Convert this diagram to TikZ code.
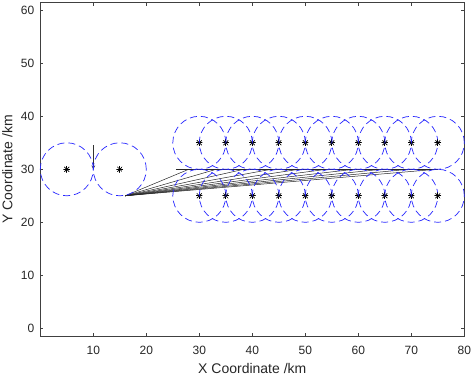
\documentclass[tikz,border=0pt]{standalone}
\usepackage{fontspec}
\setmainfont{Liberation Sans}
\usepackage{tikz}
\usetikzlibrary{arrows}
\tikzstyle{frame} = [draw=black!75, line width=0.6pt]
\tikzstyle{ticklabel} = [font=\fontsize{12}{14}\selectfont, text=black!85, inner sep=0pt]
\tikzstyle{axislabel} = [font=\fontsize{14}{16}\selectfont, text=black!85, inner sep=0pt]
\tikzstyle{cover} = [draw=blue!85, dash pattern=on 7pt off 4pt, line width=0.7pt]
\tikzstyle{site} = [circle, inner sep=0pt, minimum size=7pt, path picture={
    \draw[line width=0.7pt] (path picture bounding box.north) -- (path picture bounding box.south);
    \draw[line width=0.7pt] (path picture bounding box.east) -- (path picture bounding box.west);
    \draw[line width=0.7pt] (path picture bounding box.north east) -- (path picture bounding box.south west);
    \draw[line width=0.7pt] (path picture bounding box.north west) -- (path picture bounding box.south east);}]
\tikzstyle{route} = [draw=black!85, line width=0.5pt]
\tikzstyle{arrow} = [draw=black!80, line width=0.7pt, ->, >=stealth]

\begin{document}
\begin{tikzpicture}[x=5.3pt, y=5.3pt]
    \useasboundingbox (-7.6,-9) rectangle (81.45,61.94);
    \draw[frame] (0,-1.5) rectangle (80,61.5);
    \foreach \x in {10,20,...,80} {
        \draw[frame] (\x,-1.5) -- ++(0,0.6);
        \draw[frame] (\x,61.5) -- ++(0,-0.6);
        \node[ticklabel] (xt\x) at (\x,-4.2) {\x};
    }
    \foreach \y in {0,10,...,60} {
        \draw[frame] (0,\y) -- ++(0.6,0);
        \draw[frame] (80,\y) -- ++(-0.6,0);
        \node[ticklabel, anchor=east] (yt\y) at (-1.1,\y) {\y};
    }
    \node[axislabel] (xlabel) at (40,-7.6) {X Coordinate /km};
    \node[axislabel, rotate=90] (ylabel) at (-6.2,30) {Y Coordinate /km};

    \coordinate (src) at (16,25);
    \coordinate (bar) at (25.6,30);
    \coordinate (bend) at (75,30);
    \draw[route] (bar) -- (bend);
    \foreach \k in {0,...,9} {
        \coordinate (end\k) at ({28+5.2*\k},30);
        \draw[route] (src) -- (end\k);
    }
    \coordinate (tail) at (10,34.5);
    \coordinate (head) at (10,30);
    \draw[arrow] (tail) -- (head);

    \node[site] (home) at (5,30) {};
    \node[site] (base) at (15,30) {};
    \draw[cover] (home.center) circle (5);
    \draw[cover] (base.center) circle (5);
    \foreach \x in {30,35,...,75} {
        \node[site] (up\x) at (\x,35) {};
        \node[site] (lo\x) at (\x,25) {};
        \draw[cover] (up\x.center) circle (5);
        \draw[cover] (lo\x.center) circle (5);
    }
\end{tikzpicture}
\end{document}
